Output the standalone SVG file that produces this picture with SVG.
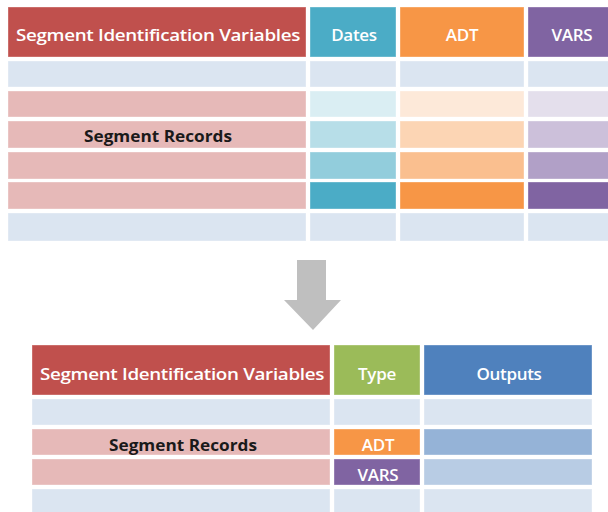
<svg xmlns="http://www.w3.org/2000/svg" width="608" height="512" viewBox="0 0 608 512">
  <style>
    .hd { font-family: "Open Sans", "Liberation Sans", sans-serif; font-weight: 600; font-size: 17px; fill: #ffffff; text-anchor: middle; dominant-baseline: central; letter-spacing: -0.3px; }
    .lb { font-family: "Open Sans", "Liberation Sans", sans-serif; font-weight: 700; font-size: 16.5px; fill: #1a1a1a; text-anchor: middle; dominant-baseline: central; }
    rect { stroke: #ffffff; stroke-opacity: 0.35; stroke-width: 1; }
  </style>
  <rect width="608" height="512" fill="#ffffff" style="stroke:none"/>

  <!-- Source table -->
  <g id="src-id-col">
    <rect x="8" y="7" width="298" height="50" fill="#c0504d"/>
    <text class="hd" x="158" y="34" textLength="284" lengthAdjust="spacingAndGlyphs">Segment Identification Variables</text>
    <rect x="8" y="61" width="298" height="26" fill="#dbe5f1"/>
    <rect x="8" y="91" width="298" height="26" fill="#e6b9b8"/>
    <rect x="8" y="121" width="298" height="27" fill="#e6b9b8"/>
    <rect x="8" y="152" width="298" height="27" fill="#e6b9b8"/>
    <rect x="8" y="182" width="298" height="27" fill="#e6b9b8"/>
    <rect x="8" y="213" width="298" height="28" fill="#dbe5f1"/>
    <text class="lb" x="158" y="135" textLength="148" lengthAdjust="spacingAndGlyphs">Segment Records</text>
  </g>
  <g id="src-dates-col">
    <rect x="310" y="7" width="86" height="50" fill="#4bacc6"/>
    <text class="hd" x="354" y="34">Dates</text>
    <rect x="310" y="61" width="86" height="26" fill="#dbe5f1"/>
    <rect x="310" y="91" width="86" height="26" fill="#daeef3"/>
    <rect x="310" y="121" width="86" height="27" fill="#b7dee8"/>
    <rect x="310" y="152" width="86" height="27" fill="#92cddc"/>
    <rect x="310" y="182" width="86" height="27" fill="#4bacc6"/>
    <rect x="310" y="213" width="86" height="28" fill="#dbe5f1"/>
  </g>
  <g id="src-adt-col">
    <rect x="400" y="7" width="124" height="50" fill="#f79646"/>
    <text class="hd" x="462" y="34">ADT</text>
    <rect x="400" y="61" width="124" height="26" fill="#dbe5f1"/>
    <rect x="400" y="91" width="124" height="26" fill="#fde9d9"/>
    <rect x="400" y="121" width="124" height="27" fill="#fcd5b4"/>
    <rect x="400" y="152" width="124" height="27" fill="#fabf8f"/>
    <rect x="400" y="182" width="124" height="27" fill="#f79646"/>
    <rect x="400" y="213" width="124" height="28" fill="#dbe5f1"/>
  </g>
  <g id="src-vars-col">
    <rect x="528" y="7" width="84" height="50" fill="#8064a2"/>
    <text class="hd" x="572" y="34">VARS</text>
    <rect x="528" y="61" width="84" height="26" fill="#dbe5f1"/>
    <rect x="528" y="91" width="84" height="26" fill="#e4dfec"/>
    <rect x="528" y="121" width="84" height="27" fill="#ccc0da"/>
    <rect x="528" y="152" width="84" height="27" fill="#b1a0c7"/>
    <rect x="528" y="182" width="84" height="27" fill="#8064a2"/>
    <rect x="528" y="213" width="84" height="28" fill="#dbe5f1"/>
  </g>

  <!-- Transformation arrow -->
  <g id="connectors">
    <polygon points="297,260 326,260 326,300 341,300 313,330 284,300 297,300" fill="#bfbfbf"/>
  </g>

  <!-- Output table -->
  <g id="out-id-col">
    <rect x="32" y="345" width="298" height="50" fill="#c0504d"/>
    <text class="hd" x="182" y="373" textLength="284" lengthAdjust="spacingAndGlyphs">Segment Identification Variables</text>
    <rect x="32" y="399" width="298" height="26" fill="#dbe5f1"/>
    <rect x="32" y="429" width="298" height="26" fill="#e6b9b8"/>
    <rect x="32" y="459" width="298" height="26" fill="#e6b9b8"/>
    <rect x="32" y="489" width="298" height="28" fill="#dbe5f1"/>
    <text class="lb" x="183" y="444" textLength="148" lengthAdjust="spacingAndGlyphs">Segment Records</text>
  </g>
  <g id="out-type-col">
    <rect x="334" y="345" width="86" height="50" fill="#9bbb59"/>
    <text class="hd" x="377" y="373">Type</text>
    <rect x="334" y="399" width="86" height="26" fill="#dbe5f1"/>
    <rect x="334" y="429" width="86" height="26" fill="#f79646"/>
    <text class="hd" x="378" y="444">ADT</text>
    <rect x="334" y="459" width="86" height="26" fill="#8064a2"/>
    <text class="hd" x="378" y="474">VARS</text>
    <rect x="334" y="489" width="86" height="28" fill="#dbe5f1"/>
  </g>
  <g id="out-outputs-col">
    <rect x="424" y="345" width="168" height="50" fill="#4f81bd"/>
    <text class="hd" x="509" y="373">Outputs</text>
    <rect x="424" y="399" width="168" height="26" fill="#dbe5f1"/>
    <rect x="424" y="429" width="168" height="26" fill="#95b3d7"/>
    <rect x="424" y="459" width="168" height="26" fill="#b8cce4"/>
    <rect x="424" y="489" width="168" height="28" fill="#dbe5f1"/>
  </g>
</svg>
